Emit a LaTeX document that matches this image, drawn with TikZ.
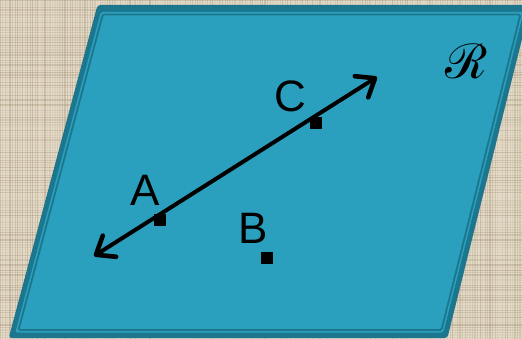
\documentclass[tikz,border=0pt]{standalone}
\usepackage{fontspec}
\setmainfont{Liberation Sans}
\newfontfamily\planeRfont{Noto Sans}
\usetikzlibrary{arrows.meta}
\definecolor{bgbeige}{RGB}{228,219,200}
\definecolor{texbrown}{RGB}{150,130,100}
\definecolor{planefill}{RGB}{43,160,190}
\definecolor{planedark}{RGB}{28,118,142}
\tikzset{
  pt/.style={fill=black,inner sep=0pt,minimum size=12pt,draw=none},
  lbl/.style={font=\fontsize{44}{44}\selectfont,inner sep=0pt,text=black},
  linearrow/.style={line width=4pt,
    {Straight Barb[length=16pt,width=25pt,line width=4.6pt,line join=round,line cap=round]}-{Straight Barb[length=16pt,width=25pt,line width=4.6pt,line join=round,line cap=round]}},
}
\begin{document}
\begin{tikzpicture}[x=1pt,y=-1pt]
\useasboundingbox (0,0) rectangle (522,339);
\begin{scope}
\clip (0,0) rectangle (522,339);
% textured background
\fill[bgbeige] (0,0) rectangle (522,339);
\pgfmathsetseed{7}
\foreach \i in {0,2.5,...,339} {
  \pgfmathsetmacro\o{0.03+rnd*0.32}
  \pgfmathsetmacro\w{0.5+rnd*1.0}
  \draw[texbrown,opacity=\o,line width=\w pt] (0,\i) -- (522,\i);
}
\foreach \i in {0,2.5,...,522} {
  \pgfmathsetmacro\o{0.03+rnd*0.32}
  \pgfmathsetmacro\w{0.5+rnd*1.0}
  \draw[texbrown,opacity=\o,line width=\w pt] (\i,0) -- (\i,339);
}
% plane
\fill[planedark,rounded corners=3pt] (97.5,5) -- (530.5,5) -- (447.4,338) -- (8.7,338) -- cycle;
\fill[planefill,rounded corners=2pt] (100.8,12) -- (523.6,12) -- (443.4,332.5) -- (15.3,332.5) -- cycle;
\draw[planedark,line width=1.8pt,rounded corners=1.5pt] (102.8,14.5) -- (520.4,14.5) -- (441.5,330) -- (18.5,330) -- cycle;
\end{scope}
% label of plane
\node[inner sep=0pt] (R) at (466,61) {\fontsize{48}{48}\selectfont\planeRfont ℛ};
% points
\node[pt] (A) at (160,220) {};
\node[pt] (B) at (267,258) {};
\node[pt] (C) at (316,123) {};
\node[lbl] (Al) at (145,190) {A};
\node[lbl] (Bl) at (253,228) {B};
\node[lbl] (Cl) at (290,96) {C};
% line
\coordinate (L1) at (94,256);
\coordinate (L2) at (377,77);
\draw[linearrow] (L1) -- (L2);
\end{tikzpicture}
\end{document}
